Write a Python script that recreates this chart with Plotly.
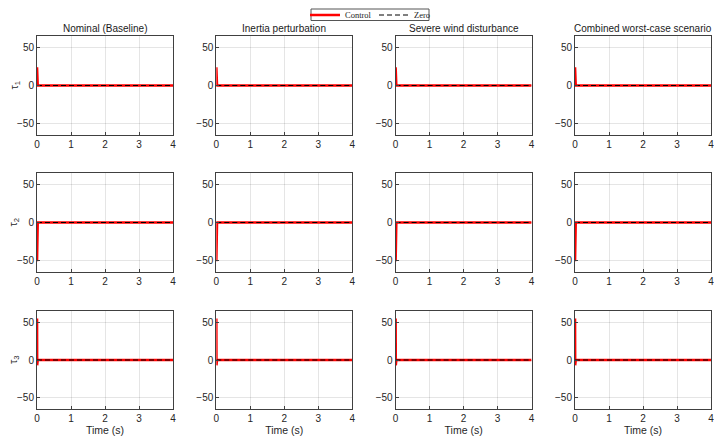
import plotly.graph_objects as go

# The page body adds an 8px margin; the figure is laid out in window pixels minus that offset.
OFF = 8
W, H = 722 - OFF, 442 - OFF

scenarios = ["Nominal (Baseline)", "Inertia perturbation",
             "Severe wind disturbance", "Combined worst-case scenario"]
channels = ["τ<sub>1</sub>", "τ<sub>2</sub>", "τ<sub>3</sub>"]

# Control torque time histories (same shape in every scenario)
t_ctrl = [0.0, 0.004, 0.008, 0.02, 0.5, 1.0, 2.0, 3.0, 4.0]
tau1_ctrl = [24, 0.5, 0.2, 0.0, 0.0, 0.0, 0.0, 0.0, 0.0]
tau2_ctrl = [-51, -1.0, -0.3, 0.0, 0.0, 0.0, 0.0, 0.0, 0.0]
tau3_ctrl = [55, -7, -1.0, 0.0, 0.0, 0.0, 0.0, 0.0, 0.0]
control = {
    "Nominal (Baseline)": [tau1_ctrl, tau2_ctrl, tau3_ctrl],
    "Inertia perturbation": [tau1_ctrl, tau2_ctrl, tau3_ctrl],
    "Severe wind disturbance": [tau1_ctrl, tau2_ctrl, tau3_ctrl],
    "Combined worst-case scenario": [tau1_ctrl, tau2_ctrl, tau3_ctrl],
}
t_zero = [0.0, 4.0]
v_zero = [0.0, 0.0]

x_ticks = [0, 1, 2, 3, 4]
y_ticks = [-50, 0, 50]
x_range = [0, 4]
y_range = [-65, 65]

# layout geometry (window pixels)
col_left = [37, 216.3, 395.6, 575]
col_w = 136
row_top = [36, 173, 311]
row_bot = [135, 272, 409]


def px(x):
    return (x - OFF) / W


def py(y):
    return 1 - (y - OFF) / H


fig = go.Figure()
axcol = "#404040"
tickcol = "#262626"
gridcol = "rgba(0,0,0,0.1)"

n = 0
for r in range(3):
    for c, sc in enumerate(scenarios):
        n += 1
        xa = "x" if n == 1 else f"x{n}"
        ya = "y" if n == 1 else f"y{n}"
        fig.add_trace(go.Scatter(x=t_ctrl, y=control[sc][r], mode="lines",
                                 line=dict(color="#FF0000", width=2.6),
                                 name="Control", showlegend=(n == 1),
                                 xaxis=xa, yaxis=ya))
        fig.add_trace(go.Scatter(x=t_zero, y=v_zero, mode="lines",
                                 line=dict(color="black", width=1, dash="5px,3px"),
                                 name="Zero", showlegend=(n == 1),
                                 xaxis=xa, yaxis=ya))
        axd = dict(showline=True, linecolor=axcol, linewidth=1, mirror=True,
                   showgrid=True, gridcolor=gridcol, zeroline=False,
                   ticks="inside", ticklen=3, tickcolor=axcol, automargin=False,
                   tickfont=dict(family="Liberation Sans, Arial", size=10, color=tickcol))
        xdom = [px(col_left[c]), px(col_left[c] + col_w)]
        ydom = [py(row_bot[r]), py(row_top[r])]
        xkey = "xaxis" if n == 1 else f"xaxis{n}"
        ykey = "yaxis" if n == 1 else f"yaxis{n}"
        xd = dict(axd, domain=xdom, range=x_range, tickvals=x_ticks,
                  anchor=ya, ticklabelstandoff=0)
        if r == 2:
            xd["title"] = dict(text="Time (s)", standoff=1,
                               font=dict(family="Liberation Sans, Arial", size=10.5, color=tickcol))
        yd = dict(axd, domain=ydom, range=y_range, tickvals=y_ticks,
                  anchor=xa)
        fig.layout[xkey] = xd
        fig.layout[ykey] = yd

annotations = []
for c, sc in enumerate(scenarios):
    annotations.append(dict(text=sc, x=px(col_left[c] + col_w / 2), y=py(36),
                            xref="paper", yref="paper", showarrow=False,
                            xanchor="center", yanchor="bottom",
                            font=dict(family="Liberation Sans, Arial", size=10, color="#1a1a1a")))
for r, ch in enumerate(channels):
    annotations.append(dict(text=ch, x=px(14), y=py((row_top[r] + row_bot[r]) / 2),
                            xref="paper", yref="paper", showarrow=False, textangle=-90,
                            xanchor="center", yanchor="middle",
                            font=dict(family="Liberation Sans, Arial", size=11, color=tickcol)))

# legend frame
shapes = [dict(type="rect", xref="paper", yref="paper",
               x0=px(311), x1=px(429), y0=py(20.5), y1=py(9),
               line=dict(color="#555555", width=1), fillcolor="rgba(0,0,0,0)")]

fig.update_layout(
    width=W, height=H, margin=dict(l=0, r=0, t=0, b=0, autoexpand=False),
    paper_bgcolor="white", plot_bgcolor="white",
    annotations=annotations, shapes=shapes,
    legend=dict(orientation="h", x=px(305), y=py(15), xanchor="left", yanchor="middle",
                borderwidth=0, bgcolor="rgba(0,0,0,0)",
                font=dict(family="Liberation Serif, Times New Roman", size=8.5, color="#222"),
                itemwidth=30, tracegroupgap=0, entrywidth=24, entrywidthmode="pixels"),
)

fig.write_html("out.html")
